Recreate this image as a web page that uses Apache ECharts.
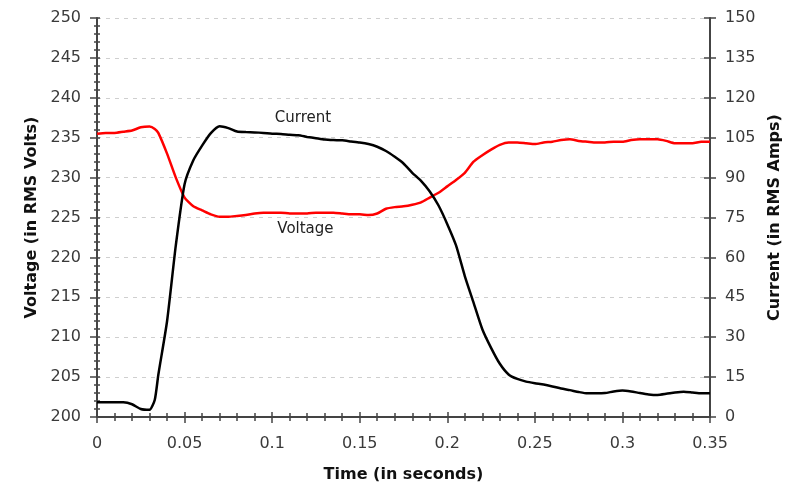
<!DOCTYPE html>
<html>
<head>
<meta charset="utf-8">
<script src="https://cdn.jsdelivr.net/npm/echarts@6/dist/echarts.min.js"></script>
<style>
html,body{margin:0;padding:0;background:#fff;}
#c{width:794px;height:484px;}
</style>
</head>
<body>
<div id="c"></div>
<script>
// Time (s)
var times = [0,0.005,0.01,0.015,0.02,0.025,0.03,0.033,0.035,0.04,0.045,0.05,0.055,0.06,0.065,0.07,0.075,0.08,0.085,0.09,0.095,0.1,0.105,0.11,0.115,0.12,0.125,0.13,0.135,0.14,0.145,0.15,0.155,0.16,0.165,0.17,0.175,0.18,0.185,0.19,0.195,0.2,0.205,0.21,0.215,0.22,0.225,0.23,0.235,0.24,0.245,0.25,0.255,0.26,0.265,0.27,0.275,0.28,0.285,0.29,0.295,0.3,0.305,0.31,0.315,0.32,0.325,0.33,0.335,0.34,0.345,0.35];
// Voltage (RMS Volts)
var voltage = [235.5,235.6,235.6,235.75,235.9,236.3,236.4,236.1,235.6,233.0,230.0,227.5,226.4,225.9,225.4,225.1,225.1,225.2,225.3,225.5,225.6,225.6,225.6,225.5,225.5,225.5,225.6,225.6,225.6,225.5,225.4,225.4,225.3,225.5,226.1,226.3,226.4,226.6,226.9,227.5,228.1,228.9,229.7,230.6,232.0,232.8,233.5,234.1,234.4,234.4,234.3,234.2,234.4,234.5,234.7,234.8,234.6,234.5,234.4,234.4,234.5,234.5,234.7,234.8,234.8,234.8,234.6,234.3,234.3,234.3,234.5,234.5];
// Current (RMS Amps)
var current = [5.5,5.5,5.5,5.5,4.8,3.0,2.7,6.5,15.8,36,64.5,87.5,96.5,102,106.7,109.3,108.6,107.3,107.1,107,106.8,106.5,106.4,106.1,105.9,105.3,104.8,104.3,104.1,104.0,103.6,103.2,102.6,101.6,100.0,97.8,95.3,91.8,88.8,84.8,79.5,72.5,64.5,53,43,33,26,20,16,14.3,13.3,12.7,12.2,11.5,10.7,10.1,9.4,8.9,8.9,9.0,9.6,10.0,9.6,9.0,8.5,8.3,8.7,9.2,9.5,9.2,8.9,8.9];

var xMin = 0, xMax = 0.35, xInterval = 0.05;
var vMin = 200, vMax = 250, vInterval = 5;
var aMin = 0, aMax = 150, aInterval = 15;

function pairs(ys){ return times.map(function(t,i){ return [t, ys[i]]; }); }

var labelFont = {fontFamily:'DejaVu Sans', fontSize:16, color:'#3a3a3a'};
var nameFont = {fontFamily:'DejaVu Sans', fontSize:16, fontWeight:'bold', color:'#111'};
var axisCol = '#444';
var clear = 'rgba(0,0,0,0)';

var chart = echarts.init(document.getElementById('c'), null, {renderer:'canvas'});
chart.setOption({
  animation:false,
  backgroundColor:'#fff',
  grid:{left:97, right:84, top:18, bottom:67, containLabel:false, outerBoundsMode:'none'},
  xAxis:[
    {type:'value', min:xMin, max:xMax, interval:xInterval, position:'bottom',
     name:'Time (in seconds)', nameLocation:'middle', nameGap:50, nameTextStyle:nameFont,
     axisLine:{show:true, onZero:false, lineStyle:{color:axisCol, width:2}},
     axisTick:{show:true, inside:false, length:6, lineStyle:{color:axisCol, width:1.5}},
     minorTick:{show:true, splitNumber:5, length:4, lineStyle:{color:axisCol, width:1.5}},
     axisLabel:Object.assign({margin:19}, labelFont),
     splitLine:{show:false}},
    {type:'value', min:xMin, max:xMax, interval:xInterval, position:'bottom',
     axisLine:{show:true, onZero:false, lineStyle:{color:clear, width:1}},
     axisTick:{show:true, inside:true, length:5, lineStyle:{color:axisCol, width:1.5}},
     minorTick:{show:true, splitNumber:5, length:4, lineStyle:{color:axisCol, width:1.5}},
     axisLabel:{show:false}, splitLine:{show:false}}
  ],
  yAxis:[
    {type:'value', min:vMin, max:vMax, interval:vInterval, position:'left',
     name:'Voltage (in RMS Volts)', nameLocation:'middle', nameGap:55, nameRotate:90, nameTextStyle:nameFont,
     axisLine:{show:true, onZero:false, lineStyle:{color:axisCol, width:2}},
     axisTick:{show:true, inside:false, length:7, lineStyle:{color:axisCol, width:1.5}},
     minorTick:{show:true, splitNumber:5, length:3, lineStyle:{color:axisCol, width:1.5}},
     axisLabel:Object.assign({margin:16}, labelFont),
     splitLine:{show:true, lineStyle:{color:'#cfcfcf', type:[4,5], width:1}}},
    {type:'value', min:aMin, max:aMax, interval:aInterval, position:'right',
     name:'Current (in RMS Amps)', nameLocation:'middle', nameGap:57, nameRotate:90, nameTextStyle:nameFont,
     axisLine:{show:true, onZero:false, lineStyle:{color:axisCol, width:2}},
     axisTick:{show:true, inside:false, length:6, lineStyle:{color:axisCol, width:1.5}},
     axisLabel:Object.assign({margin:15}, labelFont),
     splitLine:{show:false}},
    {type:'value', min:vMin, max:vMax, interval:vInterval, position:'left',
     axisLine:{show:true, onZero:false, lineStyle:{color:clear, width:1}},
     axisTick:{show:true, inside:true, length:3, lineStyle:{color:axisCol, width:1.5}},
     minorTick:{show:true, splitNumber:5, length:3, lineStyle:{color:axisCol, width:1.5}},
     axisLabel:{show:false}, splitLine:{show:false}},
    {type:'value', min:aMin, max:aMax, interval:aInterval, position:'right',
     axisLine:{show:true, onZero:false, lineStyle:{color:clear, width:1}},
     axisTick:{show:true, inside:true, length:6, lineStyle:{color:axisCol, width:1.5}},
     axisLabel:{show:false}, splitLine:{show:false}}
  ],
  series:[
    {name:'Voltage', type:'line', xAxisIndex:0, yAxisIndex:0, data:pairs(voltage),
     showSymbol:false, smooth:0.2, lineStyle:{color:'#ff0000', width:2.5}, z:3,
     markPoint:{symbol:'circle', symbolSize:1, silent:true, itemStyle:{color:clear},
       label:{show:true, formatter:'Voltage', fontFamily:'DejaVu Sans', fontSize:15, color:'#222', position:'inside'},
       data:[{coord:[0.119, 223.6]}]}},
    {name:'Current', type:'line', xAxisIndex:0, yAxisIndex:1, data:pairs(current),
     showSymbol:false, smooth:0.2, lineStyle:{color:'#000000', width:2.5}, z:4,
     markPoint:{symbol:'circle', symbolSize:1, silent:true, itemStyle:{color:clear},
       label:{show:true, formatter:'Current', fontFamily:'DejaVu Sans', fontSize:15, color:'#222', position:'inside'},
       data:[{coord:[0.1176, 112.4]}]}},
    {name:'axisHelperA', type:'line', xAxisIndex:1, yAxisIndex:2, data:[], silent:true},
    {name:'axisHelperB', type:'line', xAxisIndex:1, yAxisIndex:3, data:[], silent:true}
  ]
});
</script>
</body>
</html>
